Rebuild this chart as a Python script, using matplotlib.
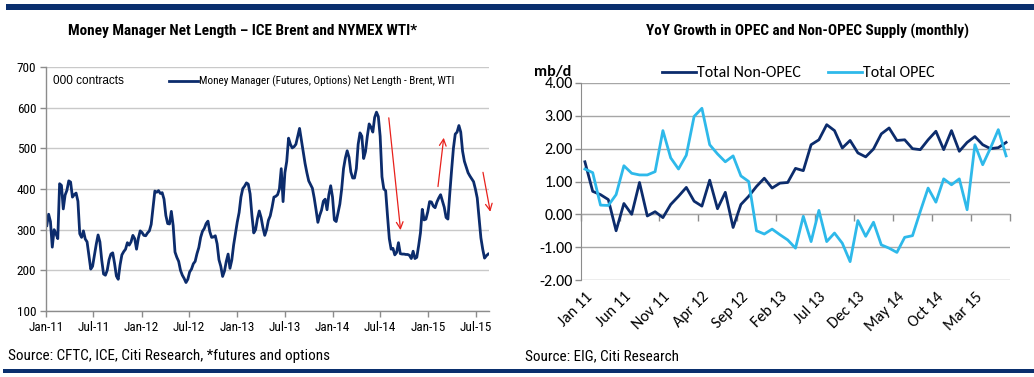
import matplotlib
matplotlib.use("Agg")
import matplotlib.pyplot as plt
import matplotlib.dates as mdates
import matplotlib.ticker as mticker
from matplotlib import font_manager as fm
from matplotlib.patches import Rectangle
import pandas as pd
import numpy as np

# ---------------- data ----------------
# Left: Money manager net length (000 contracts), weekly from 4 Jan 2011
mm_net_length = [
    310, 338, 320, 257, 300, 290, 278, 413, 409, 351,
    385, 397, 420, 417, 380, 386, 390, 370, 290, 281,
    297, 277, 270, 237, 203, 210, 237, 264, 287, 270,
    225, 191, 188, 200, 226, 240, 243, 217, 186, 178,
    213, 238, 246, 252, 268, 262, 270, 286, 278, 252,
    279, 297, 293, 286, 285, 292, 297,
    313, 354, 395, 392, 396, 389, 391, 375, 335, 315,
    314, 345, 310, 245, 232, 222, 200, 188, 180, 170,
    178, 196, 203, 216, 222, 241, 256, 281, 296, 303,
    315, 321, 295, 281, 282, 285, 265, 226, 210, 185,
    198, 222, 240, 205, 225, 262, 290, 319, 342, 380,
    401, 407, 415, 412, 388, 335, 292, 300, 327, 346,
    330, 305, 286,
    300, 323, 334, 355, 380, 382, 386, 400, 450, 369,
    440, 468, 525, 510, 501, 504, 510, 530, 549, 520,
    490, 463, 440, 420, 411, 402, 378, 349, 318, 335,
    348, 370, 375, 349, 386, 408, 380, 324, 320, 341,
    363, 400, 450, 476, 494, 478, 442, 427, 427, 450,
    510, 538, 530, 475, 492, 530, 560,
    552, 540, 576, 589, 578, 530, 430, 400, 396, 335,
    278, 252, 254, 238, 244, 268, 241, 240, 240, 239,
    239, 237, 229, 247, 229, 232, 260, 292, 350, 324,
    326, 344, 369, 368, 358, 354, 368, 378, 386, 370,
    355, 330, 326, 388, 446, 500, 535, 540, 556, 540,
    493, 468, 454, 440, 432, 425, 418, 400, 378, 330,
    280, 252, 230, 236, 240,
]
mm_start = "2011-01-04"
mm_label = "Money Manager (Futures, Options) Net Length - Brent, WTI"

# red trend arrows: (start date, start value, end date, end value)
arrow_from_dates = ["2014-08-03", "2015-02-07", "2015-07-29"]
arrow_from_vals = [575, 406, 441]
arrow_to_dates = ["2014-09-17", "2015-03-01", "2015-08-26"]
arrow_to_vals = [299, 526, 344]

# Right: YoY growth in supply (mb/d), monthly Jan 2011 - Jul 2015
supply_start = "2011-01-01"
non_opec = [1.6, 0.7, 0.6, 0.45, -0.5, 0.33, 0.0, 0.97, -0.05, 0.08,
            -0.1, 0.3, 0.55, 0.82, 0.4, 0.25, 1.04, 0.17, 0.67, -0.4,
            0.3, 0.55, 0.85, 1.1, 0.8, 0.95, 0.97, 1.4, 1.33, 2.12,
            2.27, 2.73, 2.55, 2.02, 2.25, 1.87, 1.75, 1.99, 2.45, 2.63,
            2.25, 2.27, 2.0, 1.97, 2.27, 2.53, 1.97, 2.55, 1.92, 2.19,
            2.37, 2.12, 2.0, 2.03, 2.19]
opec = [1.38, 1.27, 0.28, 0.27, 0.6, 1.48, 1.25, 1.2, 1.2, 1.3,
        2.55, 1.72, 1.38, 1.8, 2.98, 3.23, 2.12, 1.84, 1.6, 1.78,
        1.17, 1.0, -0.5, -0.6, -0.45, -0.62, -0.78, -1.03, -0.06, -0.83,
        0.12, -0.83, -0.57, -0.88, -1.44, -0.19, -0.67, -0.24, -0.93, -1.03,
        -1.16, -0.7, -0.65, 0.09, 0.8, 0.37, 1.08, 0.9, 1.08, 0.14,
        2.12, 1.51, 2.02, 2.58, 1.78]

# ---------------- styling ----------------
names = {f.name for f in fm.fontManager.ttflist}
NARROW = "Roboto Condensed" if "Roboto Condensed" in names else "Liberation Sans"
ARIAL = "Liberation Sans"
CAL = "Carlito" if "Carlito" in names else "Lato"

NAVY = "#0C2C6C"
BAR = "#0A2F6E"
CYAN = "#2EB9EA"
GRID_L = "#C9C9C9"
GRID_R = "#A6A6A6"
AXC = "#8C8C8C"

W, H = 1034, 377
fig = plt.figure(figsize=(W / 100, H / 100), dpi=100)


def fx(px):
    return px / W


def fy(py):
    return 1 - py / H


# header / footer bars
fig.add_artist(Rectangle((fx(6), fy(9.5)), fx(W - 6), 5.5 / H, transform=fig.transFigure,
                         color=BAR, lw=0))
fig.add_artist(Rectangle((fx(3), fy(372.5)), fx(W - 3), 3.5 / H, transform=fig.transFigure,
                         color=BAR, lw=0))

# titles
fig.text(fx(243), fy(31), "Money Manager Net Length \u2013 ICE Brent and NYMEX WTI*",
         ha="center", va="center", fontsize=11, fontweight="bold", family=NARROW)
fig.text(fx(808), fy(31), "YoY Growth in OPEC and Non-OPEC Supply (monthly)",
         ha="center", va="center", fontsize=11, fontweight="bold", family=NARROW)

# sources
fig.text(fx(8), fy(356), "Source: CFTC, ICE, Citi Research, *futures and options",
         ha="left", va="center", fontsize=10.9, family=NARROW)
fig.text(fx(525), fy(356), "Source: EIG, Citi Research",
         ha="left", va="center", fontsize=10.9, family=NARROW)

# ---------------- left chart ----------------
axL = fig.add_axes([fx(46), fy(311), fx(489 - 46), (311 - 67) / H])
dates = pd.date_range(mm_start, periods=len(mm_net_length), freq="7D")
lineL, = axL.plot(dates, mm_net_length, color=NAVY, lw=2.0, solid_joinstyle="round",
                  label=mm_label)
axL.set_ylim(100, 700)
axL.set_yticks(np.arange(100, 701, 100))
axL.set_xlim(pd.Timestamp("2011-01-01"), pd.Timestamp("2015-08-21"))
axL.xaxis.set_major_locator(mdates.MonthLocator(bymonth=[1, 7]))
axL.xaxis.set_major_formatter(mdates.DateFormatter("%b-%y"))
axL.grid(axis="y", color=GRID_L, lw=1.0)
axL.set_axisbelow(True)
for s in ["top", "right"]:
    axL.spines[s].set_visible(False)
for s in ["left", "bottom"]:
    axL.spines[s].set_color(AXC)
    axL.spines[s].set_linewidth(1.0)
axL.tick_params(axis="both", colors=AXC, labelcolor="black", length=4, width=1.0, pad=3)
for lab in axL.get_xticklabels() + axL.get_yticklabels():
    lab.set_family(NARROW)
    lab.set_fontsize(9.5)

fig.text(fx(53), fy(81), "000 contracts", ha="left", va="center", fontsize=8.5, family=ARIAL)

fig.legend(handles=[lineL], loc="center left", bbox_to_anchor=(fx(169), fy(81.5)),
           frameon=False, handlelength=2.6, handletextpad=0.1,
           borderpad=0, borderaxespad=0, prop={"family": NARROW, "size": 8})

for d0, v0, d1, v1 in zip(arrow_from_dates, arrow_from_vals, arrow_to_dates, arrow_to_vals):
    axL.annotate("", xy=(pd.Timestamp(d1), v1), xytext=(pd.Timestamp(d0), v0),
                 arrowprops=dict(arrowstyle="->", color="#E8211C", lw=0.9,
                                 shrinkA=0, shrinkB=0, mutation_scale=12),
                 annotation_clip=False)

# ---------------- right chart ----------------
axR = fig.add_axes([fx(581), fy(280), fx(1010 - 581), (280 - 83) / H])
months = pd.date_range(supply_start, periods=len(non_opec), freq="MS")
xi = np.arange(len(months))
l1, = axR.plot(xi, non_opec, color=NAVY, lw=2.0, label="Total Non-OPEC")
l2, = axR.plot(xi, opec, color=CYAN, lw=2.0, label="Total OPEC")
axR.set_xlim(-0.5, len(months) - 0.5)
axR.set_ylim(-2, 4)
axR.set_yticks(np.arange(-2, 4.01, 1))
axR.yaxis.set_major_formatter(mticker.FormatStrFormatter("%.2f"))
axR.grid(axis="y", color=GRID_R, lw=1.0)
axR.set_axisbelow(True)
for s in ["top", "right", "bottom"]:
    axR.spines[s].set_visible(False)
axR.spines["left"].set_color(AXC)
axR.tick_params(axis="y", colors=AXC, labelcolor="black", length=4, width=1.0, pad=2)
lab_idx = xi[::5]
axR.set_xticks(lab_idx)
axR.set_xticklabels([m.strftime("%b %y") for m in months[::5]], rotation=45,
                    ha="right", va="top", rotation_mode="anchor")
axR.tick_params(axis="x", length=0, pad=7)
for lab in axR.get_xticklabels() + axR.get_yticklabels():
    lab.set_family(CAL)
    lab.set_fontsize(11.5)

# category axis crossing at zero with tick marks between categories
sec = axR.secondary_xaxis(0, transform=axR.transData)
sec.set_xticks(np.arange(-0.5, len(months), 5))
sec.set_xticklabels([])
sec.tick_params(axis="x", direction="out", length=5, width=1.0, colors=AXC)
sec.spines["bottom"].set_color(AXC)

fig.text(fx(534), fy(72), "mb/d", ha="left", va="center", fontsize=11.5,
         fontweight="bold", family=CAL)
fig.legend(handles=[l1, l2], loc="center left", bbox_to_anchor=(fx(662), fy(73)),
           ncol=2, frameon=False, handlelength=2.1, handletextpad=0.1,
           columnspacing=1.7, borderpad=0, borderaxespad=0,
           prop={"family": CAL, "size": 11.5})

fig.savefig("out.png", dpi=100)
